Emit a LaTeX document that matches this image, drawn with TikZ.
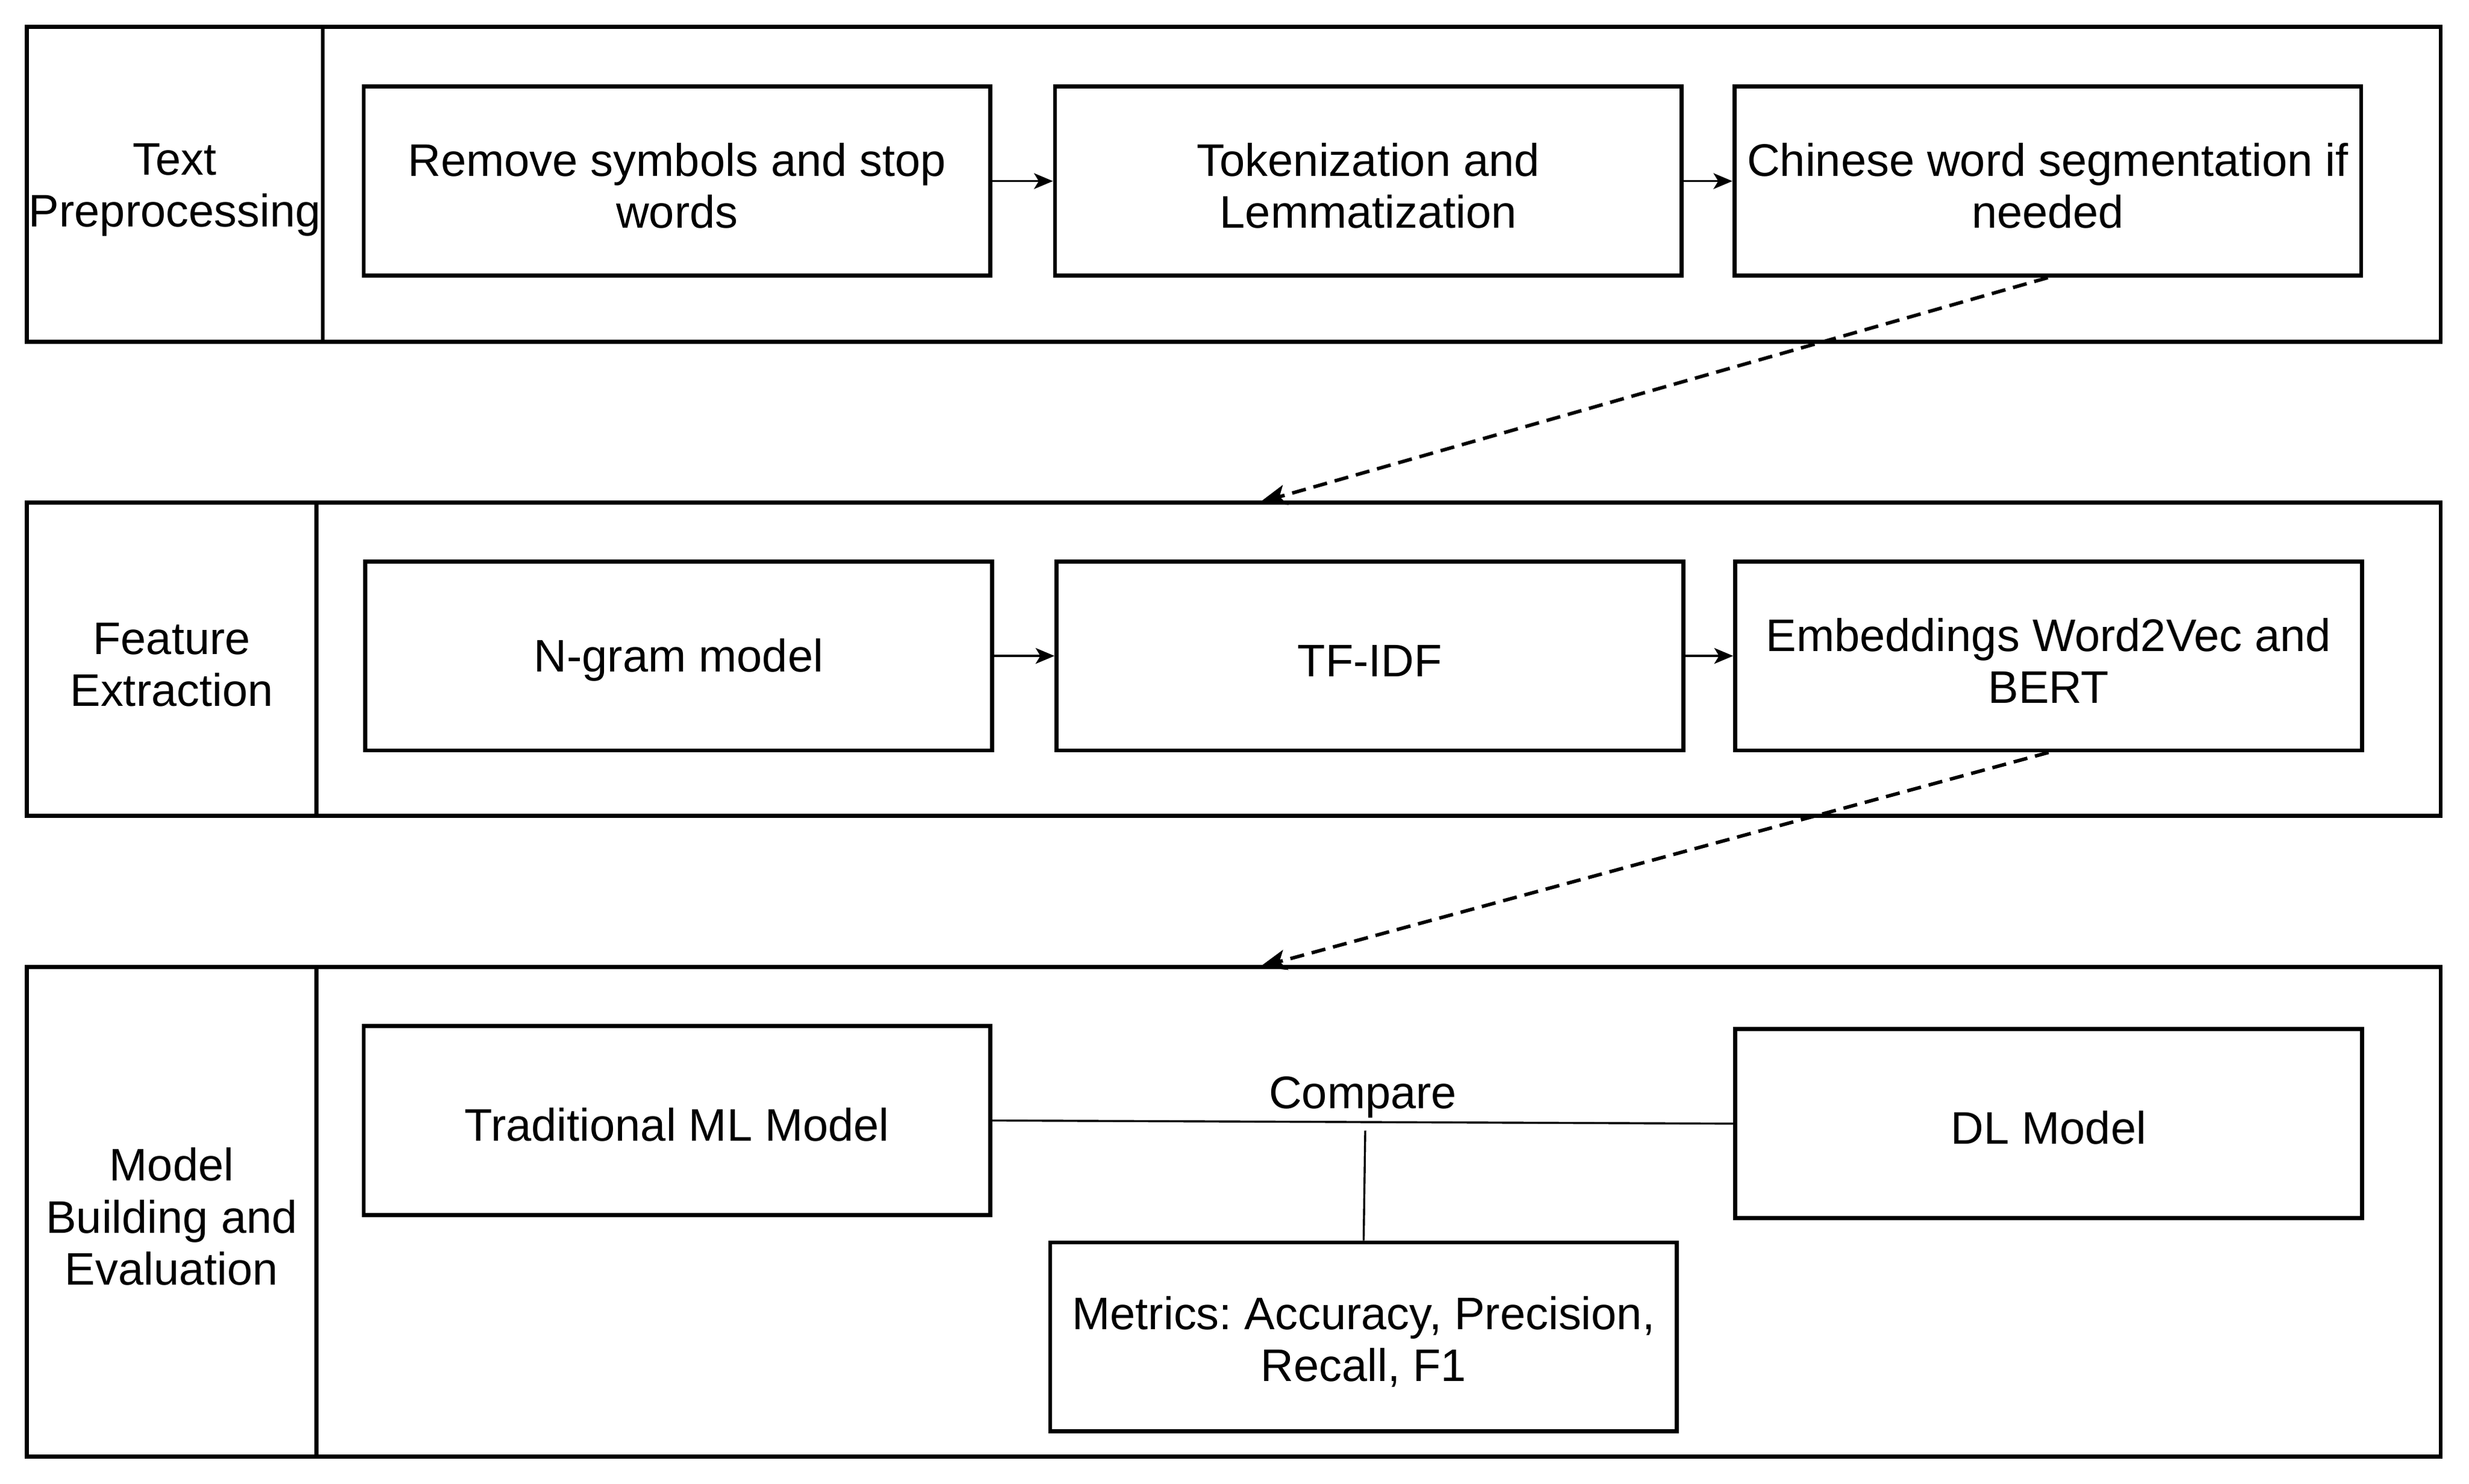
\documentclass[tikz,border=0pt]{standalone}
\usepackage{fontspec}
\setmainfont{Liberation Sans}
\usetikzlibrary{arrows.meta}
\newcommand{\lift}{\rule{0pt}{27pt}}
\frenchspacing

\begin{document}
\begin{tikzpicture}[x=1pt,y=-1pt]
        \tikzstyle{every node} = [font=\fontsize{29}{33}\selectfont, align=center, inner sep=0pt, execute at begin node={\rule{0pt}{26pt}}]
        \tikzstyle{lanehead} = [draw, line width=2.6pt, minimum height=#1]
        \tikzstyle{stepbox} = [draw, line width=2.6pt, minimum width=398pt, minimum height=120pt]
        \tikzstyle{flow} = [-{Stealth[length=12pt,width=10pt,inset=3pt]}, line width=1.3pt]
        \tikzstyle{jump} = [-{Stealth[length=17pt,width=13pt,inset=4pt]}, line width=2.2pt, dash pattern=on 9pt off 5pt]
        \useasboundingbox (0,0) rectangle (1568,942);
        % lanes
        \node[lanehead=200pt, minimum width=188pt] (l1) at (111,117) {\lift Text\\Preprocessing};
        \node[lanehead=200pt, minimum width=1345pt] (b1) at (877.5,117) {};
        \node[lanehead=199pt, minimum width=184pt] (l2) at (109,418.5) {\lift Feature\\Extraction};
        \node[lanehead=199pt, minimum width=1349pt] (b2) at (875.5,418.5) {};
        \node[lanehead=311pt, minimum width=184pt] (l3) at (109,769.5) {\lift Model\\Building and\\Evaluation};
        \node[lanehead=311pt, minimum width=1349pt] (b3) at (875.5,769.5) {};
        % steps
        \node[stepbox] (rm) at (430,115) {\lift Remove symbols and stop\\words};
        \node[stepbox] (tok) at (869,115) {\lift Tokenization and\\Lemmatization};
        \node[stepbox] (cws) at (1300.5,115) {\lift Chinese word segmentation if\\needed};
        \node[stepbox] (ngram) at (431,416.5) {N-gram model};
        \node[stepbox] (tfidf) at (870,416.5) {TF-IDF};
        \node[stepbox] (emb) at (1301,416.5) {\lift Embeddings Word2Vec and\\BERT};
        \node[stepbox] (trad) at (430,711.5) {Traditional ML Model};
        \node[stepbox] (dl) at (1301,713.5) {DL Model};
        \node[stepbox] (met) at (866,849) {\lift Metrics: Accuracy, Precision,\\Recall, F1};
        \coordinate (in2) at (800,319);
        \coordinate (in3) at (800,614);
        \coordinate (cmp) at (867,718);
        \foreach \from/\to in {rm/tok, tok/cws, ngram/tfidf, tfidf/emb}
            \draw[flow] (\from) -- (\to);
        \draw[jump] (cws.south) -- (in2);
        \draw[jump] (emb.south) -- (in3);
        \draw[line width=1.3pt] (trad.east) -- node[above=2pt, inner sep=0pt] (cmplabel) {Compare} (dl.west);
        \draw[line width=1.3pt] (cmp) -- (met.north);
    \end{tikzpicture}
\end{document}
